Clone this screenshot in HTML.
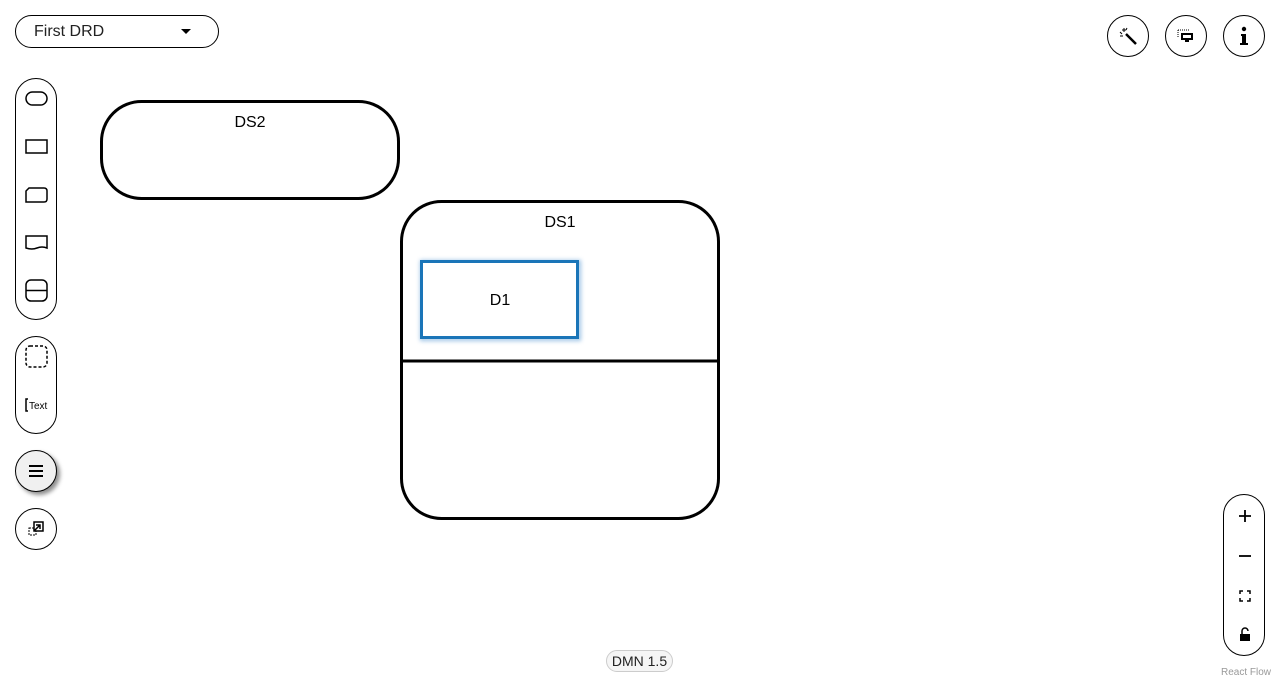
<!DOCTYPE html>
<html><head><meta charset="utf-8"><style>
body{margin:0;width:1280px;height:680px;background:#fff;position:relative;overflow:hidden;font-family:"Liberation Sans",sans-serif;}
.a{position:absolute;box-sizing:border-box;}
.pill{border:1px solid #000;border-radius:22px;background:#fff;}
.circ{border:1px solid #000;border-radius:50%;background:#fff;width:42px;height:42px;display:flex;align-items:center;justify-content:center;}
</style></head><body>
<div class="a pill" style="left:15px;top:15px;width:204px;height:33px;border-radius:17px;">
<span class="a" style="left:18px;top:7px;font-size:16px;color:#222;">First DRD</span>
<svg class="a" style="left:164px;top:12px" width="12" height="8"><path d="M1 1h10L6 6z" fill="#000"/></svg>
</div>

<div class="a pill" style="left:15px;top:78px;width:42px;height:242px;">
<svg class="a" style="left:0;top:0" width="42" height="242">
<rect x="10" y="13" width="21" height="13" rx="6.5" fill="none" stroke="#000" stroke-width="1.5"/>
<rect x="10" y="61" width="21" height="13" fill="none" stroke="#000" stroke-width="1.5"/>
<path d="M13 109h15q3 0 3 3v8q0 3-3 3h-18v-11z" fill="none" stroke="#000" stroke-width="1.5"/>
<path d="M10 157h21v12q-5-2-10 0t-11 0z" fill="none" stroke="#000" stroke-width="1.5"/>
<rect x="10" y="201" width="21" height="21" rx="5" fill="none" stroke="#000" stroke-width="1.5"/>
<line x1="10" y1="211.5" x2="31" y2="211.5" stroke="#000" stroke-width="1.5"/>
</svg></div>

<div class="a pill" style="left:15px;top:336px;width:42px;height:98px;">
<svg class="a" style="left:0;top:0" width="42" height="98">
<rect x="10" y="9" width="21" height="21" rx="4" fill="none" stroke="#000" stroke-width="1.5" stroke-dasharray="3 2"/>
<path d="M12 62h-2v12h2" fill="none" stroke="#000" stroke-width="1.5"/>
<text x="13" y="72" font-size="10" font-family="Liberation Sans">Text</text>
</svg></div>

<div class="a circ" style="left:15px;top:450px;background:#f0f0f0;box-shadow:3px 3px 4px rgba(0,0,0,.45);">
<svg width="16" height="14"><path d="M1 2h14M1 7h14M1 12h14" stroke="#000" stroke-width="2"/></svg></div>
<div class="a circ" style="left:15px;top:508px;">
<svg width="18" height="18"><rect x="2" y="8" width="7" height="7" fill="none" stroke="#000" stroke-dasharray="2 1"/><rect x="7" y="2" width="9" height="9" fill="#fff" stroke="#000" stroke-width="1.5"/><path d="M7 11l6-6M9 5h4v4" stroke="#000" fill="none" stroke-width="1.5"/></svg></div>

<div class="a circ" style="left:1107px;top:15px;">
<svg width="18" height="18"><path d="M7 7l10 10" stroke="#000" stroke-width="2.5"/><path d="M5 1v4M3 3h4M1 5l2 2M8 1l-1 2M1 9h3" stroke="#000" stroke-width="1"/></svg></div>
<div class="a circ" style="left:1165px;top:15px;">
<svg width="18" height="18"><rect x="4" y="6" width="12" height="7" fill="#000"/><rect x="6" y="8" width="8" height="3" fill="#fff"/><path d="M1 3h12M1 3v7" stroke="#000" stroke-dasharray="1 1"/><path d="M8 14h4" stroke="#000" stroke-width="2"/></svg></div>
<div class="a circ" style="left:1223px;top:15px;">
<svg width="10" height="20"><circle cx="5" cy="3" r="2.2" fill="#000"/><path d="M2 8h5v9h2v2H1v-2h2v-7H2z" fill="#000"/></svg></div>

<svg class="a" style="left:0;top:0" width="1280" height="680">
<defs><filter id="sh" x="-20%" y="-20%" width="140%" height="140%"><feGaussianBlur stdDeviation="2"/></filter></defs>
<g>
<rect x="101.5" y="101.5" width="297" height="97" rx="40" fill="#fff" stroke="#000" stroke-width="3"/>
<text x="250" y="127" text-anchor="middle" font-size="16" font-family="Liberation Sans">DS2</text></g>
<g>
<rect x="401.5" y="201.5" width="317" height="317" rx="40" fill="#fff" stroke="#000" stroke-width="3"/>
<line x1="401" y1="361" x2="719" y2="361" stroke="#000" stroke-width="3"/>
<text x="560" y="227" text-anchor="middle" font-size="16" font-family="Liberation Sans">DS1</text></g>
<g>
<rect x="422" y="262" width="157" height="77" fill="none" stroke="#5b9bd5" stroke-width="4" filter="url(#sh)" opacity=".6"/>
<rect x="421.5" y="261.5" width="156" height="76" fill="#fff" stroke="#1a75b8" stroke-width="3"/>
<text x="500" y="305" text-anchor="middle" font-size="16" font-family="Liberation Sans">D1</text></g>
</svg>

<div class="a pill" style="left:1223px;top:494px;width:42px;height:162px;">
<svg class="a" style="left:0;top:0" width="42" height="162">
<path d="M15 21h12M21 15v12" stroke="#000" stroke-width="1.8"/>
<path d="M15 61h12" stroke="#000" stroke-width="1.8"/>
<path d="M16 99v-3h3M23 96h3v3M26 103v3h-3M19 106h-3v-3" fill="none" stroke="#000" stroke-width="1.5"/>
<g><rect x="16" y="139" width="10" height="7" fill="#000"/><path d="M18 139v-3a3 3 0 0 1 6 0" fill="none" stroke="#000" stroke-width="1.5"/></g>
</svg></div>

<div class="a" style="left:606px;top:650px;width:67px;height:22px;border:1px solid #ccc;border-radius:11px;background:#f5f5f5;font-size:14px;text-align:center;line-height:20px;color:#222;">DMN 1.5</div>
<div class="a" style="left:1221px;top:667px;font-size:10px;color:#999;">React Flow</div>
</body></html>
